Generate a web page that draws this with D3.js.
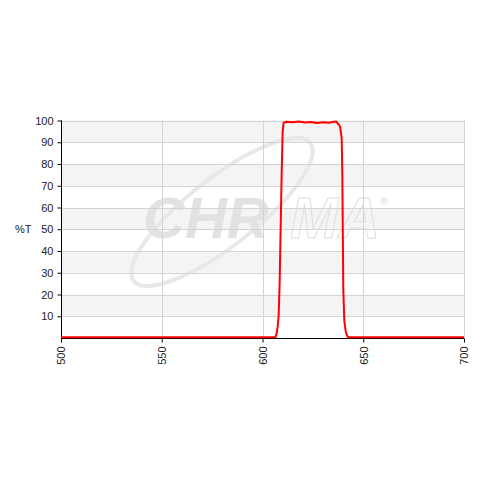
<!DOCTYPE html>
<html>
<head>
<meta charset="utf-8">
<script src="https://cdn.jsdelivr.net/npm/d3@7"></script>
<style>
  body { margin: 0; background: #fff; }
  text { font-family: "Liberation Sans", Arial, sans-serif; }
</style>
</head>
<body>
<div id="chart"></div>
<script>
// spectrum
var wavelength = [500, 550, 600, 605, 606.5, 607, 607.5, 608, 608.5, 609, 609.5, 610, 610.5, 612,
                  615, 618, 621, 624, 627, 630, 633, 635.5, 636.5, 637, 637.5, 638, 638.5, 639,
                  639.3, 639.6, 640.1, 640.6, 641.3, 642, 642.6, 645, 700];
var transmission = [0.3, 0.3, 0.3, 0.3, 0.5, 2, 5, 10, 25, 50, 75, 95, 99, 99.4,
                    99.2, 99.5, 99.1, 99.3, 98.9, 99.2, 99.0, 99.4, 99.5, 99, 98.5, 98, 97, 94,
                    92, 76, 22, 8, 3, 1, 0.3, 0.3, 0.3];
var xTicks = [500, 550, 600, 650, 700];
var yTicks = [10, 20, 30, 40, 50, 60, 70, 80, 90, 100];

(function(){
    var W = 480, H = 480;
    var left = 61, right = 464, top = 120.5, bottom = 338;

    var svg = d3.select('#chart').append('svg')
	.attr('width', W)
	.attr('height', H);

    var x = d3.scaleLinear().domain([500, 700]).range([left, right]);
    var y = d3.scaleLinear().domain([0, 100]).range([bottom, top]);

    // alternating bands
    var bands = [];
    for (var v = 0; v < 100; v += 10) bands.push(v);
    svg.append('g').selectAll('rect')
	.data(bands)
	.enter().append('rect')
	.attr('x', left)
	.attr('width', right - left)
	.attr('y', function(d){ return y(d + 10); })
	.attr('height', function(d){ return y(d) - y(d + 10); })
	.attr('fill', function(d){ return (d / 10) % 2 == 1 ? '#f4f4f4' : '#ffffff'; });

    // watermark
    var wm = svg.append('g');
    wm.append('ellipse')
	.attr('cx', 0).attr('cy', 0)
	.attr('rx', 112).attr('ry', 34)
	.attr('transform', 'translate(222,212) rotate(-38)')
	.attr('fill', 'none')
	.attr('stroke', '#e8e8e8')
	.attr('stroke-width', 4);
    wm.append('text')
	.attr('x', 143).attr('y', 238)
	.attr('font-size', 58)
	.attr('font-weight', 'bold')
	.attr('font-style', 'italic')
	.attr('fill', '#e2e2e2')
	.text('CHR');
    wm.append('text')
	.attr('x', 290).attr('y', 238)
	.attr('font-size', 58)
	.attr('font-weight', 'bold')
	.attr('font-style', 'italic')
	.attr('fill', 'none')
	.attr('stroke', '#dedede')
	.attr('stroke-width', 1)
	.text('MA');
    wm.append('text')
	.attr('x', 380).attr('y', 205)
	.attr('font-size', 11)
	.attr('fill', '#dcdcdc')
	.text('\u00ae');

    // grid
    var grid = svg.append('g').attr('stroke', '#d4d4d4').attr('stroke-width', 1);
    grid.selectAll('line.h')
	.data(yTicks)
	.enter().append('line')
	.attr('x1', left).attr('x2', right)
	.attr('y1', function(d){ return Math.round(y(d)) + 0.5; })
	.attr('y2', function(d){ return Math.round(y(d)) + 0.5; });
    grid.selectAll('line.v')
	.data(xTicks.slice(1))
	.enter().append('line')
	.attr('y1', top).attr('y2', bottom)
	.attr('x1', function(d){ return Math.round(x(d)) + 0.5; })
	.attr('x2', function(d){ return Math.round(x(d)) + 0.5; });

    // axes
    var yAxis = d3.axisLeft(y).tickValues(yTicks).tickSize(4).tickPadding(4);
    var gy = svg.append('g')
	.attr('transform', 'translate(' + (left + 0.5) + ',0)')
	.call(yAxis);
    gy.select('.domain').attr('d', 'M0,' + bottom + 'V' + top).attr('stroke', '#000');
    gy.selectAll('.tick line').attr('stroke', '#000');
    gy.selectAll('text').attr('font-size', 11).attr('fill', '#222')
	.attr('font-family', '"Liberation Sans", Arial, sans-serif');

    var xAxis = d3.axisBottom(x).tickValues(xTicks).tickSize(4).tickPadding(4);
    var gx = svg.append('g')
	.attr('transform', 'translate(0,' + (bottom + 0.5) + ')')
	.call(xAxis);
    gx.select('.domain').attr('d', 'M' + left + ',0H' + right).attr('stroke', '#000');
    gx.selectAll('.tick line').attr('stroke', '#000');
    gx.selectAll('text')
	.attr('font-size', 11).attr('fill', '#222')
	.attr('font-family', '"Liberation Sans", Arial, sans-serif')
	.attr('transform', 'rotate(-90)')
	.attr('x', -8).attr('y', 0).attr('dy', '0.35em')
	.attr('text-anchor', 'end');

    svg.append('text')
	.attr('x', 15).attr('y', y(50) + 4)
	.attr('font-size', 11).attr('fill', '#222')
	.text('%T');

    // curve
    var pts = wavelength.map(function(w, i){ return [w, transmission[i]]; });
    var line = d3.line()
	.x(function(d){ return x(d[0]); })
	.y(function(d){ return y(d[1]); });
    svg.append('path')
	.datum(pts)
	.attr('d', line)
	.attr('fill', 'none')
	.attr('stroke', '#ff0000')
	.attr('stroke-width', 2)
	.attr('stroke-linejoin', 'round');
})();
</script>
</body>
</html>
